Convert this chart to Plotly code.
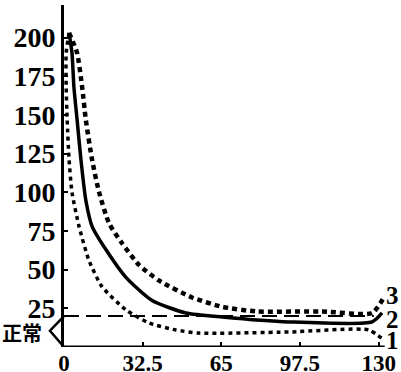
import plotly.graph_objects as go

# --- data ---
x_tick_vals = [0, 32.5, 65, 97.5, 130]
x_tick_text = ["0", "32.5", "65", "97.5", "130"]
y_tick_vals = [25, 50, 75, 100, 125, 150, 175, 200]
y_tick_text = ["25", "50", "75", "100", "125", "150", "175", "200"]

line3_x = [2.1, 5.4, 7.5, 9.0, 11.6, 14.5, 18.6, 24.0, 31.0, 39.2, 52.9, 65.3, 79.4, 106.6, 127.3, 132.5]
line3_y = [203, 190, 168, 147, 121, 100, 80, 67, 53, 43, 32, 26, 23, 23, 22, 33]

line2_x = [2.1, 3.3, 4.1, 5.4, 7.0, 9.0, 11.6, 17.3, 25.6, 36.4, 50.4, 65.3, 92.9, 127.3, 131.4]
line2_y = [203, 190, 168, 147, 121, 95, 78, 63, 45, 30, 22, 19.4, 16.2, 16.2, 22]

line1_x = [2.1, 0.9, 0.9, 1.3, 2.1, 3.3, 6.2, 10.3, 15.7, 25.6, 35.1, 46.2, 55.8, 92.9, 125.9, 132.2]
line1_y = [203, 190, 168, 147, 121, 100, 78, 56, 39, 24, 15.5, 11, 9, 9.7, 11, 4.5]

normal_level = 20
normal_label = "正常"
end_labels = ["3", "2", "1"]
end_label_y = [33, 17.5, 4]

serif = "Liberation Serif"

fig = go.Figure()
fig.add_trace(go.Scatter(x=line3_x, y=line3_y, mode="lines",
                         line=dict(color="black", width=4.5, dash="5px,4px", shape="spline", smoothing=0.6),
                         showlegend=False))
fig.add_trace(go.Scatter(x=line2_x, y=line2_y, mode="lines",
                         line=dict(color="black", width=3.5, shape="spline", smoothing=0.6),
                         showlegend=False))
fig.add_trace(go.Scatter(x=line1_x, y=line1_y, mode="lines",
                         line=dict(color="black", width=3.5, dash="4px,4px", shape="spline", smoothing=0.6),
                         showlegend=False))
# dashed normal-upper line
fig.add_trace(go.Scatter(x=[0, 128], y=[normal_level, normal_level], mode="lines",
                         line=dict(color="black", width=2, dash="15px,7px"),
                         showlegend=False))

shapes = [
    # x-axis line
    dict(type="line", xref="x", yref="y", x0=0, x1=132.5, y0=0, y1=0,
         line=dict(color="black", width=3)),
    # triangle marker for normal range
    dict(type="path", xref="paper", yref="y",
         path="M 0,%s L -0.042,%s L 0,0" % (normal_level, normal_level / 2 + 0.5),
         line=dict(color="black", width=2.5)),
]

annotations = [
    dict(text=normal_label, x=-0.126, xref="paper", y=9.5, yref="y", showarrow=False,
         font=dict(family="Noto Sans CJK SC", size=20, color="black", weight="bold"),
         xanchor="center", yanchor="middle"),
]
for lab, yy in zip(end_labels, end_label_y):
    annotations.append(dict(text=lab, x=135.6, y=yy, xref="x", yref="y", showarrow=False,
                            font=dict(family=serif, size=25, color="black", weight="bold"),
                            xanchor="center", yanchor="middle"))

fig.update_layout(
    template="none",
    width=401, height=372,
    margin=dict(l=64, r=3, t=5, b=25),
    paper_bgcolor="white", plot_bgcolor="white",
    shapes=shapes, annotations=annotations,
    xaxis=dict(range=[0, 138], tickvals=x_tick_vals, ticktext=x_tick_text, automargin=False,
               showgrid=False, zeroline=False, showline=False,
               ticks="inside", ticklen=5, tickwidth=2, tickcolor="black",
               tickfont=dict(family=serif, size=23, color="black", weight="bold")),
    yaxis=dict(range=[0, 221], tickvals=y_tick_vals, ticktext=y_tick_text, automargin=False,
               showgrid=False, zeroline=False, showline=True, linecolor="black", linewidth=3,
               ticks="inside", ticklen=4, tickwidth=2, tickcolor="black",
               tickfont=dict(family=serif, size=28, color="black", weight="bold")),
)

fig.write_html("out.html", config={"displayModeBar": False},
               post_script="document.body.style.margin='0';document.body.style.overflow='hidden';")
